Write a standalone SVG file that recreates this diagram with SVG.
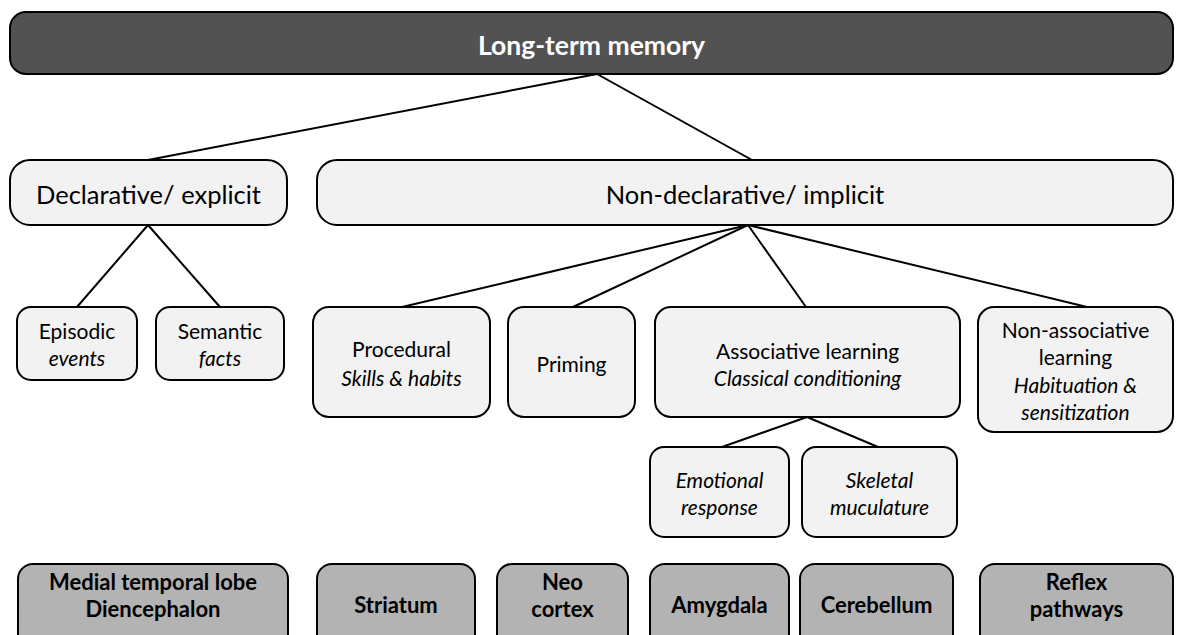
<svg xmlns="http://www.w3.org/2000/svg" width="1183" height="635" viewBox="0 0 1183 635">
<style>
.box{fill:#f2f2f2;stroke:#000;stroke-width:2}
.top{fill:#525252;stroke:#000;stroke-width:2}
.brain{fill:#b3b3b3;stroke:#000;stroke-width:2}
text{font-family:Lato,"Open Sans","DejaVu Sans",sans-serif;text-anchor:middle;fill:#000}
.t1{font-size:26.5px;font-weight:bold;fill:#fff}
.t2{font-size:25.5px}
.t3{font-size:21px}
.it{font-style:italic}
.tb{font-size:22px;font-weight:bold}
.conn line{stroke:#000;stroke-width:2}
</style>
<rect width="1183" height="635" fill="#fff"/>
<g class="conn" id="connectors">
<line x1="597" y1="74" x2="148" y2="160"/>
<line x1="597" y1="74" x2="752" y2="160"/>
<line x1="148" y1="225" x2="77" y2="307"/>
<line x1="148" y1="225" x2="220" y2="307"/>
<line x1="748" y1="225" x2="402" y2="307"/>
<line x1="748" y1="225" x2="573" y2="307"/>
<line x1="748" y1="225" x2="806" y2="307"/>
<line x1="748" y1="225" x2="1087" y2="307"/>
<line x1="807" y1="417" x2="722" y2="447"/>
<line x1="807" y1="417" x2="878" y2="447"/>
</g>
<g id="ltm"><rect class="top" x="10" y="12" width="1163" height="62" rx="16"/><text class="t1" x="591.5" y="55">Long-term memory</text></g>
<g id="declarative"><rect class="box" x="10" y="160" width="277" height="65" rx="20"/><text class="t2" x="148.5" y="204">Declarative/ explicit</text></g>
<g id="nondeclarative"><rect class="box" x="317" y="160" width="856" height="65" rx="20"/><text class="t2" x="745" y="204">Non-declarative/ implicit</text></g>
<g id="episodic"><rect class="box" x="17" y="307" width="120" height="73" rx="14"/><text class="t3" x="77" y="339">Episodic</text><text class="t3 it" x="77" y="366">events</text></g>
<g id="semantic"><rect class="box" x="156" y="307" width="128" height="73" rx="14"/><text class="t3" x="220" y="339">Semantic</text><text class="t3 it" x="220" y="366">facts</text></g>
<g id="procedural"><rect class="box" x="313" y="307" width="177" height="110" rx="16"/><text class="t3" x="401.5" y="357">Procedural</text><text class="t3 it" x="401.5" y="386">Skills &amp; habits</text></g>
<g id="priming"><rect class="box" x="508" y="307" width="127" height="110" rx="16"/><text class="t3" x="571.5" y="372">Priming</text></g>
<g id="associative"><rect class="box" x="655" y="307" width="305" height="110" rx="16"/><text class="t3" x="807.5" y="359">Associative learning</text><text class="t3 it" x="807.5" y="386">Classical conditioning</text></g>
<g id="nonassociative"><rect class="box" x="978" y="307" width="195" height="125" rx="16"/><text class="t3" x="1075.5" y="338">Non-associative</text><text class="t3" x="1075.5" y="365">learning</text><text class="t3 it" x="1075.5" y="393">Habituation &amp;</text><text class="t3 it" x="1075.5" y="420">sensitization</text></g>
<g id="emotional"><rect class="box" x="650" y="447" width="139" height="90" rx="14"/><text class="t3 it" x="719.5" y="488">Emotional</text><text class="t3 it" x="719.5" y="515">response</text></g>
<g id="skeletal"><rect class="box" x="802" y="447" width="155" height="90" rx="14"/><text class="t3 it" x="879.5" y="488">Skeletal</text><text class="t3 it" x="879.5" y="515">muculature</text></g>
<g id="mtl"><rect class="brain" x="18" y="564" width="270" height="92" rx="15"/><text class="tb" x="153" y="590">Medial temporal lobe</text><text class="tb" x="153" y="617">Diencephalon</text></g>
<g id="striatum"><rect class="brain" x="317" y="564" width="158" height="92" rx="15"/><text class="tb" x="396" y="613">Striatum</text></g>
<g id="neocortex"><rect class="brain" x="497" y="564" width="131" height="92" rx="15"/><text class="tb" x="562.5" y="590">Neo</text><text class="tb" x="562.5" y="617">cortex</text></g>
<g id="amygdala"><rect class="brain" x="650" y="564" width="139" height="92" rx="15"/><text class="tb" x="719.5" y="613">Amygdala</text></g>
<g id="cerebellum"><rect class="brain" x="800" y="564" width="153" height="92" rx="15"/><text class="tb" x="876.5" y="613">Cerebellum</text></g>
<g id="reflex"><rect class="brain" x="980" y="564" width="193" height="92" rx="15"/><text class="tb" x="1076.5" y="590">Reflex</text><text class="tb" x="1076.5" y="617">pathways</text></g>
</svg>
